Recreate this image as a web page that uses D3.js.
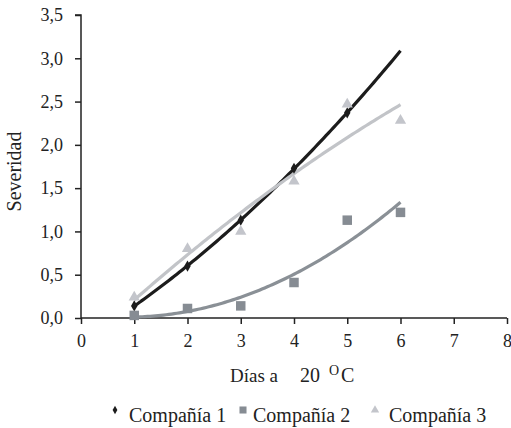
<!DOCTYPE html>
<html>
<head>
<meta charset="utf-8">
<script src="https://cdn.jsdelivr.net/npm/d3@7"></script>
<style>
  body { margin: 0; background: #fff; }
  svg { display: block; }
</style>
</head>
<body>
<div id="chart"></div>
<script>
// Data.
const days1 = [1, 2, 3, 4, 5];
const days = [1, 2, 3, 4, 5, 6];
const compania1 = [0.14, 0.60, 1.13, 1.73, 2.37];
const compania2 = [0.03, 0.11, 0.14, 0.41, 1.13, 1.22];
const compania3 = [0.24, 0.80, 1.00, 1.58, 2.47, 2.28];
const seriesNames = ["Compañía 1", "Compañía 2", "Compañía 3"];
const xTicks = [0, 1, 2, 3, 4, 5, 6, 7, 8];
const yTicks = [0, 0.5, 1, 1.5, 2, 2.5, 3, 3.5];
const trendRange = [1, 6];

const serif = '"Liberation Serif"';

const series = [
  { name: seriesNames[0], days: days1, values: compania1, color: "#1c1c1c", line: "#1c1c1c", symbol: d3.symbolDiamond, size: 36 },
  { name: seriesNames[1], days: days, values: compania2, color: "#868c93", line: "#8a9096", symbol: d3.symbolSquare, size: 90 },
  { name: seriesNames[2], days: days, values: compania3, color: "#c3c5cb", line: "#c2c4c8", symbol: d3.symbolTriangle, size: 55 }
];

// Quadratic least-squares trendline (like a spreadsheet polynomial trend).
function quadFit(xs, ys) {
  let s = [0, 0, 0, 0, 0], t = [0, 0, 0];
  xs.forEach((x, i) => {
    for (let k = 0; k < 5; k++) s[k] += Math.pow(x, k);
    for (let k = 0; k < 3; k++) t[k] += Math.pow(x, k) * ys[i];
  });
  const A = [[s[0], s[1], s[2], t[0]], [s[1], s[2], s[3], t[1]], [s[2], s[3], s[4], t[2]]];
  for (let i = 0; i < 3; i++) {
    for (let j = i + 1; j < 3; j++) {
      const f = A[j][i] / A[i][i];
      for (let k = i; k < 4; k++) A[j][k] -= f * A[i][k];
    }
  }
  const c = [0, 0, 0];
  for (let i = 2; i >= 0; i--) {
    let v = A[i][3];
    for (let k = i + 1; k < 3; k++) v -= A[i][k] * c[k];
    c[i] = v / A[i][i];
  }
  return x => c[0] + c[1] * x + c[2] * x * x;
}

const width = 511, height = 428;
const marginLeft = 81, marginRight = 4, marginTop = 15, marginBottom = 110;

const svg = d3.select("#chart").append("svg")
  .attr("width", width)
  .attr("height", height);

const x = d3.scaleLinear().domain([0, 8]).range([marginLeft, width - marginRight]);
const y = d3.scaleLinear().domain([0, 3.5]).range([height - marginBottom, marginTop]);

// Axes
const fmt = d => d3.format(".1f")(d).replace(".", ",");
const yAxis = svg.append("g")
  .attr("transform", `translate(${marginLeft},0)`)
  .call(d3.axisLeft(y).tickValues(yTicks).tickFormat(fmt).tickSize(6).tickPadding(12));
const xAxis = svg.append("g")
  .attr("transform", `translate(0,${height - marginBottom})`)
  .call(d3.axisBottom(x).tickValues(xTicks).tickFormat(d3.format("d")).tickSize(6).tickPadding(10));

[xAxis, yAxis].forEach(a => {
  a.select(".domain").attr("stroke", "#222").attr("stroke-width", 1.5);
  a.selectAll(".tick line").attr("stroke", "#222").attr("stroke-width", 1.5);
  a.selectAll("text")
    .style("font-family", serif)
    .style("font-size", "18px")
    .attr("fill", "#222");
});
xAxis.select(".domain").attr("d", `M${marginLeft},0H${width - marginRight}`);
yAxis.select(".domain").attr("d", `M0,${y(0)}V${marginTop}H-6`);

// Trendlines
const line = d3.line().x(d => x(d[0])).y(d => y(d[1]));
series.forEach(s => {
  const f = quadFit(s.days, s.values);
  const pts = d3.range(trendRange[0], trendRange[1] + 0.001, 0.05).map(v => [v, f(v)]);
  svg.append("path")
    .datum(pts)
    .attr("fill", "none")
    .attr("stroke", s.line)
    .attr("stroke-width", 3.2)
    .attr("d", line);
});

// Points
series.forEach(s => {
  svg.append("g").selectAll("path")
    .data(s.days.map((d, i) => [d, s.values[i]]))
    .join("path")
    .attr("transform", d => `translate(${x(d[0])},${y(d[1])})`)
    .attr("d", d3.symbol(s.symbol, s.size))
    .attr("fill", s.color);
});

// Axis titles
svg.append("text")
  .attr("transform", `translate(21,${(marginTop + y(0)) / 2 + 5}) rotate(-90)`)
  .attr("text-anchor", "middle")
  .style("font-family", serif)
  .style("font-size", "20px")
  .attr("fill", "#222")
  .text("Severidad");

const xt = svg.append("text")
  .attr("y", 382)
  .style("font-family", serif)
  .style("font-size", "19px")
  .attr("fill", "#222");
xt.append("tspan").attr("x", 230).text("Días a");
xt.append("tspan").attr("x", 300).style("font-size", "20px").text("20");
xt.append("tspan").attr("x", 329).style("font-size", "14px").attr("dy", -7).text("O");
xt.append("tspan").attr("x", 341).attr("dy", 7).style("font-size", "20px").text("C");

// Legend
const legendX = [115, 243, 375];
const legendTextDx = [14, 10, 14];
series.forEach((s, i) => {
  const g = svg.append("g").attr("transform", `translate(${legendX[i]},410)`);
  g.append("path")
    .attr("d", d3.symbol(s.symbol, s.size * 0.55))
    .attr("fill", s.color);
  g.append("text")
    .attr("x", legendTextDx[i])
    .attr("y", 12)
    .style("font-family", serif)
    .style("font-size", "20px")
    .attr("fill", "#222")
    .text(s.name);
});
</script>
</body>
</html>
